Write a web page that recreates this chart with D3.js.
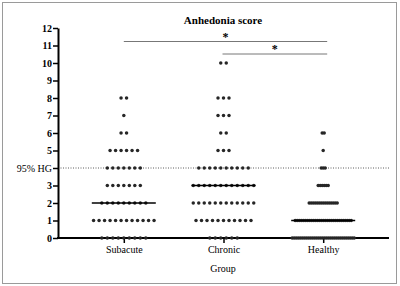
<!DOCTYPE html>
<html>
<head>
<meta charset="utf-8">
<script src="https://cdn.jsdelivr.net/npm/d3@7"></script>
<style>
  body { margin: 0; background: #fff; }
  svg text { font-family: "Liberation Serif", "Times New Roman", Times, serif !important; }
</style>
</head>
<body>
<svg id="chart" width="400" height="286"></svg>
<script>
// Data: number of subjects at each score (index = score)
const groups = ["Subacute", "Chronic", "Healthy"];
const subacuteCounts = [9, 12, 9, 7, 7, 6, 2, 1, 2];
const chronicCounts = [6, 11, 12, 12, 10, 3, 2, 3, 3, 0, 2];
const healthyCounts = [32, 29, 15, 6, 3, 1, 2];
const medians = [2, 3, 1];
const yTicks = [0, 1, 2, 3, 4, 5, 6, 7, 8, 9, 10, 11, 12];
const hgThreshold = 4;
const hgLabel = "95% HG";
const comparisons = [["Subacute", "Healthy"], ["Chronic", "Healthy"]];

const counts = [subacuteCounts, chronicCounts, healthyCounts];
const dotStep = [5.5, 5.5, 2]; // Healthy is packed tighter

const svg = d3.select("#chart");

// outer frame
svg.append("rect")
  .attr("x", 2.5).attr("y", 2.5)
  .attr("width", 394).attr("height", 281)
  .attr("fill", "none")
  .attr("stroke", "#9a9a9a")
  .attr("stroke-width", 1);

const x = d3.scalePoint().domain(groups).range([58, 389]).padding(0.66);
const y = d3.scaleLinear().domain([0, 12]).range([238, 28]);

// title
svg.append("text")
  .attr("x", 223).attr("y", 24)
  .attr("text-anchor", "middle")
  .attr("font-weight", "bold")
  .attr("font-size", 11)
  .text("Anhedonia score");

// dotted 95% HG line
svg.append("line")
  .attr("x1", 58).attr("x2", 389)
  .attr("y1", y(hgThreshold)).attr("y2", y(hgThreshold))
  .attr("stroke", "#333")
  .attr("stroke-width", 0.8)
  .attr("stroke-dasharray", "1,1.5");

// y axis
const yAxis = svg.append("g")
  .attr("transform", "translate(58,0)")
  .call(d3.axisLeft(y).tickValues(yTicks).tickSize(5).tickSizeOuter(0)
    .tickFormat((d) => (d === hgThreshold ? hgLabel : d)));
yAxis.select(".domain").attr("stroke-width", 2);
yAxis.selectAll(".tick line").attr("stroke-width", 1.5);
yAxis.selectAll(".tick text")
  .attr("font-size", 10)
  .attr("font-weight", (d) => (d === hgThreshold ? "normal" : "bold"))
  .attr("fill", "#000")
  .attr("x", -6);

// x axis
const xAxis = svg.append("g")
  .attr("transform", `translate(0,${y(0)})`)
  .call(d3.axisBottom(x).tickSize(5).tickSizeOuter(0));
xAxis.select(".domain").attr("d", "M57,0H389").attr("stroke-width", 2);
xAxis.selectAll(".tick line").attr("stroke-width", 1.5);
xAxis.selectAll(".tick text")
  .attr("font-size", 10)
  .attr("fill", "#000")
  .attr("y", 8);

svg.append("text")
  .attr("x", 223).attr("y", 272)
  .attr("text-anchor", "middle")
  .attr("font-size", 10)
  .text("Group");

// dots
groups.forEach((g, gi) => {
  const pts = [];
  counts[gi].forEach((n, score) => {
    for (let i = 0; i < n; i++) {
      pts.push({ score, off: (i - (n - 1) / 2) * dotStep[gi] });
    }
  });
  svg.append("g")
    .selectAll("circle")
    .data(pts)
    .enter()
    .append("circle")
    .attr("cx", (d) => x(g) + d.off)
    .attr("cy", (d) => y(d.score))
    .attr("r", 1.75)
    .attr("fill", "#262626");

  // median bar
  svg.append("line")
    .attr("x1", x(g) - 32).attr("x2", x(g) + 32)
    .attr("y1", y(medians[gi])).attr("y2", y(medians[gi]))
    .attr("stroke", "#000")
    .attr("stroke-width", 1.3);
});

// significance brackets
const sigY = [41.5, 54];
comparisons.forEach((c, i) => {
  const x1 = x(c[0]) - (i === 1 ? 1 : 0);
  const x2 = x(c[1]) + 4;
  svg.append("line")
    .attr("x1", x1).attr("x2", x2)
    .attr("y1", sigY[i]).attr("y2", sigY[i])
    .attr("stroke", "#777")
    .attr("stroke-width", 1);
  svg.append("text")
    .attr("x", (x1 + x2) / 2).attr("y", sigY[i] - 1)
    .attr("text-anchor", "middle")
    .attr("font-size", 12)
    .attr("font-weight", "bold")
    .text("*");
});
</script>
</body>
</html>
